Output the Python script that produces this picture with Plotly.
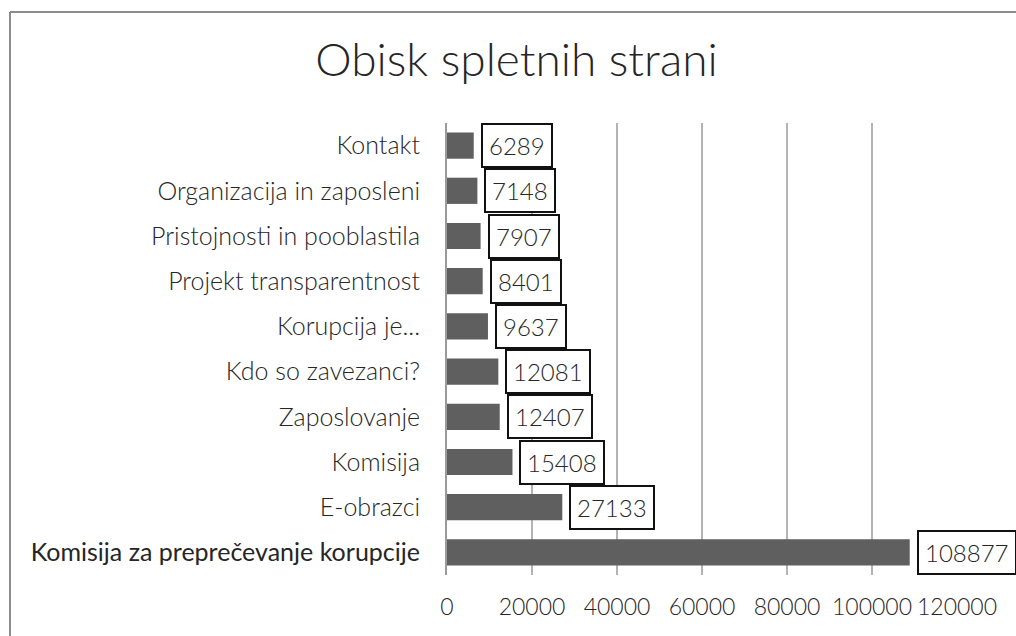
import plotly.graph_objects as go

# Page visits per section of the website
categories = [
    "Kontakt",
    "Organizacija in zaposleni",
    "Pristojnosti in pooblastila",
    "Projekt transparentnost",
    "Korupcija je...",
    "Kdo so zavezanci?",
    "Zaposlovanje",
    "Komisija",
    "E-obrazci",
    "Komisija za preprečevanje korupcije",
]
visits = [6289, 7148, 7907, 8401, 9637, 12081, 12407, 15408, 27133, 108877]
x_ticks = [0, 20000, 40000, 60000, 80000, 100000, 120000]
title_text = "Obisk spletnih strani"
highlighted = "Komisija za preprečevanje korupcije"

FONT = "Lato"
TEXT = "#262626"

# the main page label is drawn in regular weight, the others light
tick_text = [
    f'<span style="font-weight:400">{c}</span>' if c == highlighted else c
    for c in categories
]

fig = go.Figure(
    go.Bar(
        x=visits,
        y=categories,
        orientation="h",
        marker=dict(color="#5f5f5f", line=dict(width=0)),
        hoverinfo="x+y",
    )
)

# boxed value labels next to the bar ends
for c, v in zip(categories, visits):
    fig.add_annotation(
        x=v, y=c, xref="x", yref="y",
        text=str(v), showarrow=False,
        xanchor="left", yanchor="middle", xshift=7,
        font=dict(family=FONT, size=24, color=TEXT, weight=300),
        bordercolor="#111111", borderwidth=2, borderpad=6,
        bgcolor="white",
    )

# chart frame: left and top edges
frame = dict(color="#8c8c8c", width=2)
fig.add_shape(type="line", xref="paper", yref="paper",
              x0=(10 - 447) / 510, x1=(10 - 447) / 510,
              y0=(575 - 700) / 452, y1=(575 - 12) / 452, line=frame)
fig.add_shape(type="line", xref="paper", yref="paper",
              x0=(10 - 447) / 510, x1=(1100 - 447) / 510,
              y0=(575 - 12) / 452, y1=(575 - 12) / 452, line=frame)

fig.update_layout(
    width=1016, height=636,
    margin=dict(l=447, r=59, t=123, b=61),
    paper_bgcolor="white", plot_bgcolor="white",
    bargap=0.42,
    showlegend=False,
    font=dict(family=FONT, color=TEXT),
    title=dict(
        text=title_text,
        x=516.5 / 1016, xref="container", xanchor="center",
        y=1 - 60 / 636, yref="container", yanchor="middle",
        font=dict(family=FONT, size=46, color=TEXT, weight=300),
    ),
    xaxis=dict(
        range=[0, 120000],
        tickvals=x_ticks,
        ticktext=[str(t) for t in x_ticks],
        tickangle=0,
        showgrid=True, gridcolor="#b3b3b3", gridwidth=1.5,
        zeroline=False, showline=False,
        tickfont=dict(family=FONT, size=23, color=TEXT, weight=300),
        ticks="", ticklabelstandoff=16,
        fixedrange=True,
    ),
    yaxis=dict(
        autorange="reversed",
        tickvals=categories,
        ticktext=tick_text,
        showline=True, linecolor="#9a9a9a", linewidth=2,
        showgrid=False, zeroline=False,
        tickfont=dict(family=FONT, size=25, color=TEXT, weight=300),
        ticks="", ticklabelstandoff=20,
        fixedrange=True,
    ),
)

fig.write_html("out.html")
